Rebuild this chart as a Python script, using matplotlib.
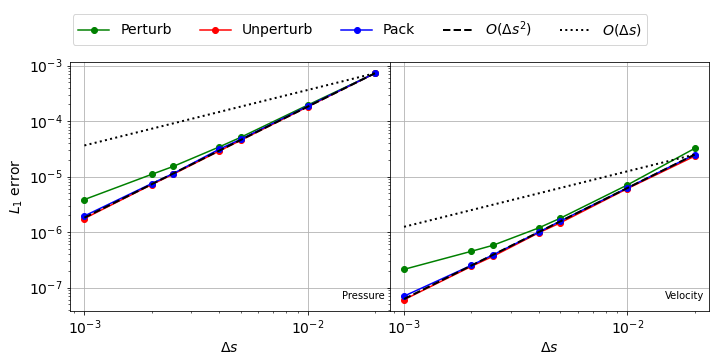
import numpy as np
import matplotlib
matplotlib.use("Agg")
import matplotlib.pyplot as plt

plt.rcParams['font.size'] = 14

ds = [0.001, 0.002, 0.0025, 0.004, 0.005, 0.01, 0.02]

# pressure errors
p_perturb = [3.87e-6, 1.10e-5, 1.53e-5, 3.41e-5, 5.10e-5, 1.95e-4, 7.3e-4]
p_unperturb = [1.76e-6, 7.2e-6, 1.11e-5, 2.88e-5, 4.5e-5, 1.82e-4, 7.3e-4]
p_pack = [1.96e-6, 7.5e-6, 1.14e-5, 3.1e-5, 4.7e-5, 1.87e-4, 7.3e-4]

# velocity errors
v_perturb = [2.14e-7, 4.52e-7, 5.8e-7, 1.19e-6, 1.78e-6, 7.1e-6, 3.23e-5]
v_unperturb = [6.07e-8, 2.42e-7, 3.67e-7, 9.7e-7, 1.47e-6, 6.1e-6, 2.34e-5]
v_pack = [7.05e-8, 2.52e-7, 3.9e-7, 1.0e-6, 1.58e-6, 6.3e-6, 2.5e-5]

labels = ['Perturb', 'Unperturb', 'Pack']
colors = ['g', 'r', 'b']


def plot_panel(ax, errs, name):
    x = np.array(ds)
    for e, lab, c in zip(errs, labels, colors):
        ax.plot(x, e, 'o-', color=c, label=lab)
    ref = errs[2][-1]
    # reference slopes anchored at the coarsest point
    ax.plot(x, ref * (x / x[-1])**2, 'k--', lw=2, label=r'$O(\Delta s^2)$')
    ax.plot(x, ref * (x / x[-1]), 'k:', lw=2, label=r'$O(\Delta s)$')
    ax.set_xscale('log')
    ax.set_yscale('log')
    ax.grid(True)
    ax.set_xlabel(r'$\Delta s$')
    ax.text(0.985, 0.04, name, transform=ax.transAxes, ha='right', va='bottom', fontsize=10)


fig, axs = plt.subplots(1, 2, figsize=(10, 5), dpi=72, sharey=True)
fig.subplots_adjust(left=0.097, right=0.985, top=0.828, bottom=0.136, wspace=0.0)

plot_panel(axs[0], [p_perturb, p_unperturb, p_pack], 'Pressure')
plot_panel(axs[1], [v_perturb, v_unperturb, v_pack], 'Velocity')
axs[0].set_ylabel(r'$L_1$ error')

h, l = axs[0].get_legend_handles_labels()
fig.legend(h, l, loc='center', ncol=5, handlelength=2.2, bbox_to_anchor=(0.5, 0.919))

fig.savefig('out.png', dpi=72)
